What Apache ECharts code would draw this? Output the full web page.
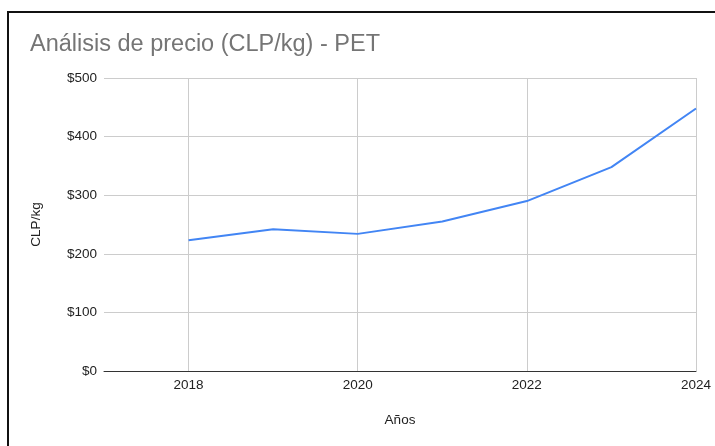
<!DOCTYPE html>
<html>
<head>
<meta charset="utf-8">
<script src="https://cdn.jsdelivr.net/npm/echarts@6/dist/echarts.min.js"></script>
<style>
  html, body { margin: 0; padding: 0; background: #fff; }
  #frame {
    position: absolute; left: 7px; top: 11px; right: 0; bottom: 0;
    border-top: 2px solid #111; border-left: 2px solid #111;
  }
  #main { position: absolute; left: 0; top: 0; width: 715px; height: 446px; }
</style>
</head>
<body>
<div id="frame"></div>
<div id="main"></div>
<script>
// datos
const years = [2018, 2019, 2020, 2021, 2022, 2023, 2024]
const prices = [223, 242, 234, 255, 290, 348, 448]
const yearTicks = [2018, 2020, 2022, 2024]
const priceTicks = [0, 100, 200, 300, 400, 500]

const chart = echarts.init(document.getElementById('main'))

const option = {
  animation: false,
  textStyle: { fontFamily: 'Liberation Sans, Arial, sans-serif' },
  title: {
    text: 'Análisis de precio (CLP/kg) - PET',
    left: 25,
    top: 28,
    textStyle: { color: '#757575', fontSize: 23.5, fontWeight: 'normal' }
  },
  grid: { left: 104, right: 19, top: 78, bottom: 75 },
  xAxis: {
    type: 'value',
    min: 2017,
    max: 2024,
    name: 'Años',
    nameLocation: 'middle',
    nameGap: 42,
    nameTextStyle: { color: '#222', fontSize: 13.5 },
    axisLine: { show: true, onZero: false, lineStyle: { color: '#333', width: 1 } },
    axisTick: { show: false, customValues: yearTicks },
    axisLabel: {
      customValues: yearTicks,
      color: '#222',
      fontSize: 13.5,
      margin: 7,
      formatter: v => String(v)
    },
    splitLine: { show: true, lineStyle: { color: '#ccc', width: 1 } }
  },
  yAxis: {
    type: 'value',
    min: priceTicks[0],
    max: priceTicks[priceTicks.length - 1],
    interval: 100,
    name: 'CLP/kg',
    nameLocation: 'middle',
    nameGap: 61,
    nameTextStyle: { color: '#222', fontSize: 13.5 },
    axisLine: { show: false },
    axisTick: { show: false },
    axisLabel: {
      color: '#222',
      fontSize: 13.5,
      margin: 7,
      formatter: v => '$' + v
    },
    splitLine: { show: true, lineStyle: { color: '#ccc', width: 1 } }
  },
  series: [{
    type: 'line',
    data: years.map((y, i) => [y, prices[i]]),
    showSymbol: false,
    lineStyle: { color: '#4285F4', width: 2 },
    itemStyle: { color: '#4285F4' }
  }]
}

chart.setOption(option)
</script>
</body>
</html>
